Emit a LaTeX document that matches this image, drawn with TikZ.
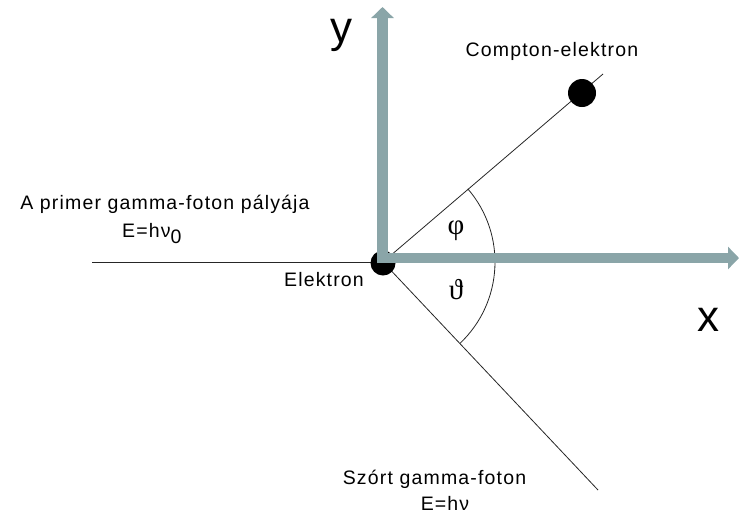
\documentclass[tikz,border=0pt]{standalone}
\usepackage{fontspec}
\setmainfont{Liberation Sans}
\newfontfamily\labfont[LetterSpace=6]{Liberation Sans}
\newfontfamily\greekfont{Liberation Serif}
\usetikzlibrary{arrows.meta,calc}
\definecolor{axiscol}{RGB}{138,165,168}
\begin{document}
\begin{tikzpicture}[x=1pt,y=-1pt,
  axis/.style={draw=axiscol,line width=10.5pt,-{Triangle[width=22pt,length=11pt]}},
  thinline/.style={draw=black!85,line width=0.8pt},
  dot/.style={circle,fill=black,inner sep=0pt},
  lab/.style={inner sep=0pt,font=\labfont\fontsize{19.5}{22}\selectfont},
  big/.style={inner sep=0pt,anchor=base,font=\fontsize{44}{48}\selectfont},
  greek/.style={inner sep=0pt,font=\greekfont\fontsize{29}{32}\selectfont}]
\useasboundingbox (0,0) rectangle (741,517);
% coordinates
\coordinate (O) at (383,262);
\coordinate (in) at (92,262);
\coordinate (ce) at (582,93);
\coordinate (ceend) at (603,74);
\coordinate (sc) at (598,490);
\coordinate (yb) at (382.5,263);
\coordinate (yt) at (382.5,7);
\coordinate (xb) at (377,258);
\coordinate (xt) at (739,258);
% lines
\draw[thinline] (in) -- (O);
\draw[thinline] (O) -- (ceend);
\draw[thinline] (O) -- (sc);
\draw[thinline] ($(O)+(-40.8:112)$) coordinate (a1) arc[start angle=-40.8,end angle=46.7,radius=112];
% dots
\node[dot,minimum size=25pt] (el) at (383,263) {};
\node[dot,minimum size=28pt] (cel) at (ce) {};
% axes
\draw[axis] (yb) -- (yt);
\draw[axis] (xb) -- (xt);
% labels
\node[big] (ylab) at (341,42) {y};
\node[big] (xlab) at (708,331) {x};
\node[lab] (compton) at (552,51) {Compton-elektron};
\node[lab] (primer) at (165,204) {A primer gamma-foton pályája};
\node[lab,anchor=base west] (e0) at (122,237) {E=hν\raisebox{-6pt}{0}};
\node[lab] (elek) at (324,280) {Elektron};
\node[lab] (szort) at (434.5,479) {Szórt gamma-foton};
\node[lab] (eh) at (445,503) {E=hν};
\node[greek] (phi) at (456,231) {φ};
\node[greek] (theta) at (456,290) {ϑ};
\end{tikzpicture}
\end{document}
